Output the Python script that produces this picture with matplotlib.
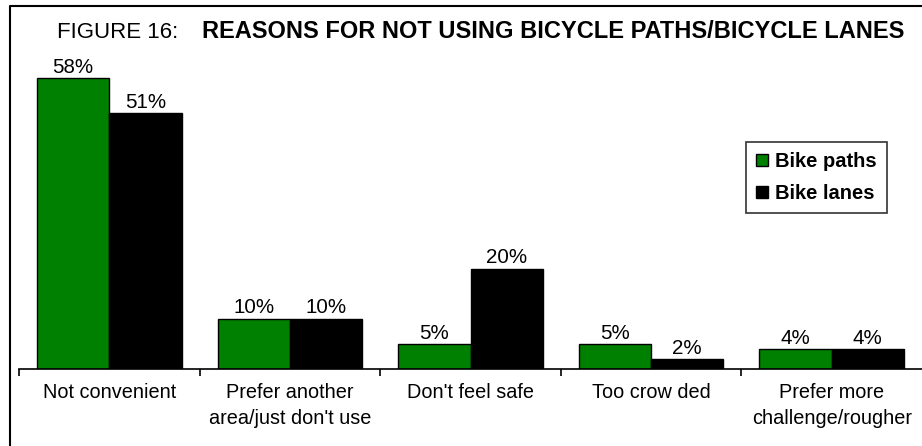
import matplotlib.pyplot as plt
from matplotlib.lines import Line2D
import numpy as np

# Data
categories = ['Not convenient', 'Prefer another\narea/just don\'t use', "Don't feel safe",
              'Too crow ded', 'Prefer more\nchallenge/rougher']
bike_paths = [58, 10, 5, 5, 4]
bike_lanes = [51, 10, 20, 2, 4]

plt.rcParams['font.family'] = ['Liberation Sans', 'DejaVu Sans']

W, H = 922, 446
fig = plt.figure(figsize=(W / 100, H / 100), dpi=100)
ax = fig.add_axes([19 / W, (H - 369) / H, 903 / W, 301 / H])

x = np.arange(len(categories))
width = 0.4
b1 = ax.bar(x - width / 2, bike_paths, width, color='#008000', edgecolor='black', linewidth=1, label='Bike paths')
b2 = ax.bar(x + width / 2, bike_lanes, width, color='black', edgecolor='black', linewidth=1, label='Bike lanes')

for bars, vals in ((b1, bike_paths), (b2, bike_lanes)):
    for r, v in zip(bars, vals):
        ax.annotate(f'{v}%', (r.get_x() + r.get_width() / 2, v), xytext=(0, 1),
                    textcoords='offset points', ha='center', va='bottom', fontsize=14.8)

ax.set_xlim(-0.5, len(categories) - 0.5)
ax.set_ylim(0, 60)
ax.set_yticks([])
for s in ('left', 'right', 'top'):
    ax.spines[s].set_visible(False)
ax.spines['bottom'].set_linewidth(1.2)

ax.set_xticks(x)
ax.set_xticklabels(categories, fontsize=14.3, linespacing=1.5)
ax.tick_params(axis='x', which='major', length=0, pad=10)
ax.set_xticks(np.arange(-0.5, len(categories) - 0.5, 1), minor=True)
ax.tick_params(axis='x', which='minor', length=5, width=1.2, direction='out')

leg = ax.legend(loc='upper left', bbox_to_anchor=((746 - 19) / 903, (369 - 142) / 301),
                prop={'weight': 'bold', 'size': 14.5}, frameon=True, fancybox=False,
                handlelength=0.6, handleheight=0.6, handletextpad=0.35,
                borderpad=0.5, labelspacing=0.65, borderaxespad=0)
leg.get_frame().set_edgecolor('black')
leg.get_frame().set_linewidth(1.2)

# title in two parts
fig.text(57 / W, 1 - 32 / H, 'FIGURE 16:', fontsize=16, ha='left', va='center')
fig.text(202 / W, 1 - 32 / H, 'REASONS FOR NOT USING BICYCLE PATHS/BICYCLE LANES',
         fontsize=17, fontweight='bold', ha='left', va='center')

# border around the chart area
fig.add_artist(Line2D([9.5 / W, 9.5 / W, 1], [0, 1 - 5.5 / H, 1 - 5.5 / H],
                      transform=fig.transFigure, color='black', linewidth=1.5))

fig.savefig('out.png', dpi=100)
